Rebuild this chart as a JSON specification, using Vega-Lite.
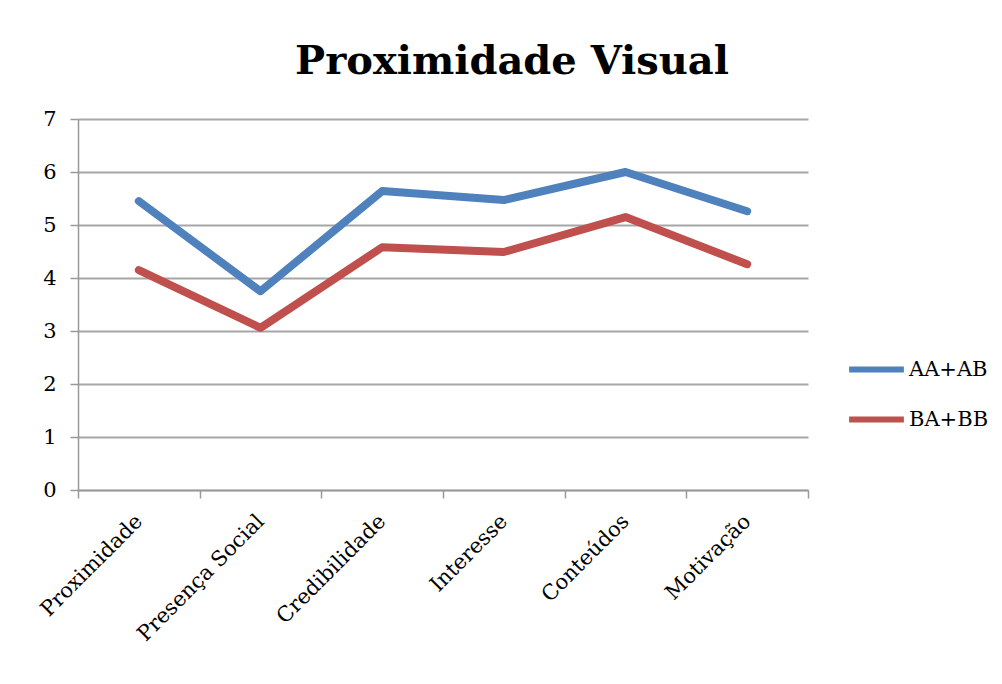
{
  "$schema": "https://vega.github.io/schema/vega-lite/v6.json",
  "width": 730,
  "height": 371,
  "autosize": "none",
  "padding": {"left": 78, "top": 119, "right": 194, "bottom": 194},
  "background": "white",
  "title": {
    "text": "Proximidade Visual",
    "font": "DejaVu Serif",
    "fontWeight": "bold",
    "fontSize": 40,
    "color": "black",
    "anchor": "middle",
    "dx": 69,
    "offset": 26
  },
  "data": {
    "values": [
      {"cat": "Proximidade", "serie": "AA+AB", "v": 5.45},
      {"cat": "Presença Social", "serie": "AA+AB", "v": 3.75},
      {"cat": "Credibilidade", "serie": "AA+AB", "v": 5.64},
      {"cat": "Interesse", "serie": "AA+AB", "v": 5.47},
      {"cat": "Conteúdos", "serie": "AA+AB", "v": 6.0},
      {"cat": "Motivação", "serie": "AA+AB", "v": 5.26},
      {"cat": "Proximidade", "serie": "BA+BB", "v": 4.15},
      {"cat": "Presença Social", "serie": "BA+BB", "v": 3.06},
      {"cat": "Credibilidade", "serie": "BA+BB", "v": 4.58},
      {"cat": "Interesse", "serie": "BA+BB", "v": 4.49},
      {"cat": "Conteúdos", "serie": "BA+BB", "v": 5.15},
      {"cat": "Motivação", "serie": "BA+BB", "v": 4.26}
    ]
  },
  "mark": {"type": "line", "strokeWidth": 8, "strokeCap": "round", "strokeJoin": "round"},
  "encoding": {
    "x": {
      "field": "cat",
      "type": "nominal",
      "sort": null,
      "title": null,
      "scale": {"type": "band", "paddingInner": 0, "paddingOuter": 0},
      "axis": {
        "labelAngle": -45,
        "labelAlign": "right",
        "labelBaseline": "middle",
        "labelFont": "DejaVu Serif",
        "labelFontSize": 21,
        "labelColor": "black",
        "labelPadding": 20,
        "labelOverlap": false,
        "tickBand": "extent",
        "tickSize": 8,
        "tickColor": "#999999",
        "tickWidth": 1.5,
        "domainColor": "#999999",
        "domainWidth": 1.5,
        "grid": false
      }
    },
    "y": {
      "field": "v",
      "type": "quantitative",
      "title": null,
      "scale": {"domain": [0, 7]},
      "axis": {
        "values": [0, 1, 2, 3, 4, 5, 6, 7],
        "labelFont": "DejaVu Serif",
        "labelFontSize": 21,
        "labelColor": "black",
        "labelPadding": 14,
        "labelOverlap": false,
        "tickSize": 8,
        "tickColor": "#999999",
        "tickWidth": 1.5,
        "domainColor": "#999999",
        "domainWidth": 1.5,
        "gridColor": "#a6a6a6",
        "gridWidth": 2
      }
    },
    "color": {
      "field": "serie",
      "type": "nominal",
      "scale": {"domain": ["AA+AB", "BA+BB"], "range": ["#4f81bd", "#c0504d"]},
      "legend": {
        "title": null,
        "orient": "none",
        "legendX": 768,
        "legendY": 220,
        "symbolType": "stroke",
        "symbolSize": 3000,
        "symbolStrokeWidth": 6,
        "labelFont": "DejaVu Serif",
        "labelFontSize": 21,
        "labelColor": "black",
        "rowPadding": 7,
        "labelOffset": 2
      }
    }
  },
  "config": {"view": {"stroke": null}}
}
